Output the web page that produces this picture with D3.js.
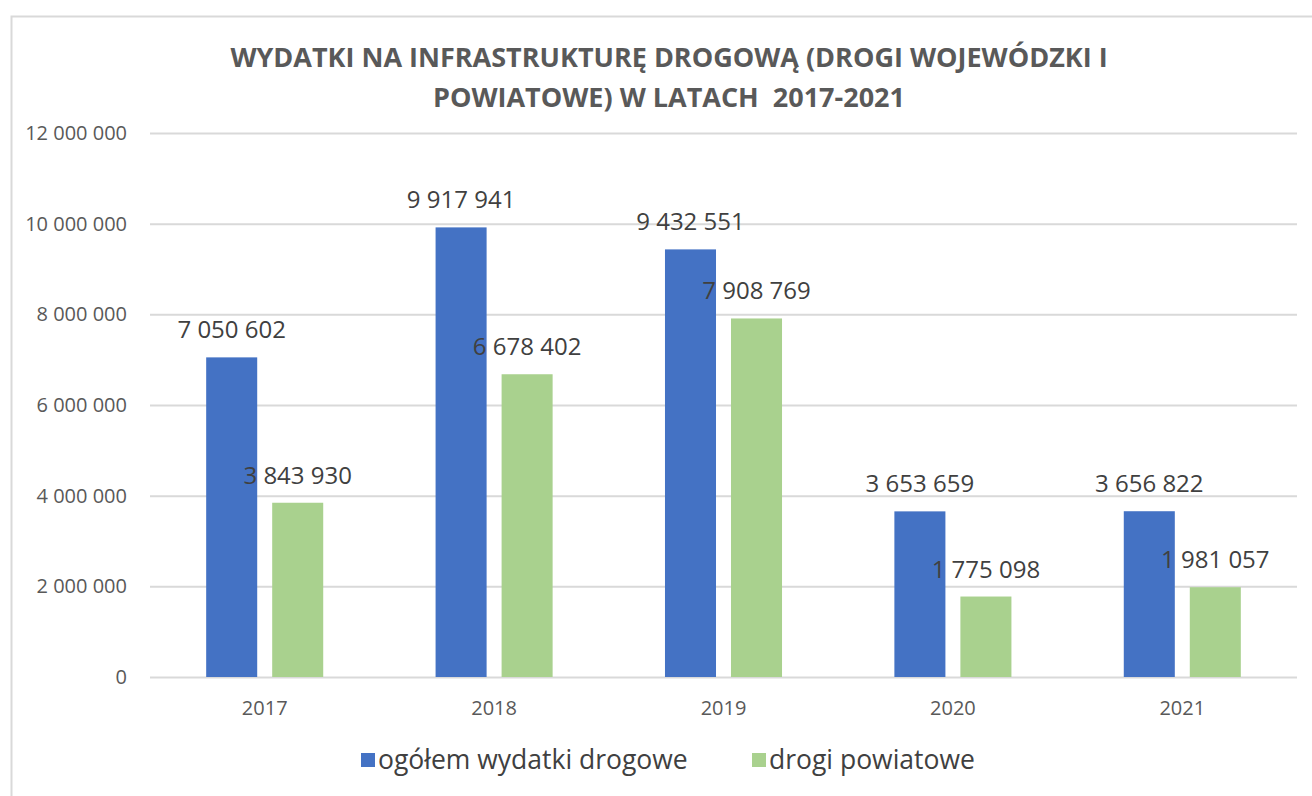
<!DOCTYPE html>
<html>
<head>
<meta charset="utf-8">
<script src="https://cdn.jsdelivr.net/npm/d3@7"></script>
<style>
  body { margin: 0; background: #fff; }
  svg { display: block; font-family: "Open Sans", sans-serif; }
</style>
</head>
<body>
<svg id="chart" width="1312" height="796"></svg>
<script>
var years = ["2017", "2018", "2019", "2020", "2021"];
var seriesNames = ["ogółem wydatki drogowe", "drogi powiatowe"];
var total = [7050602, 9917941, 9432551, 3653659, 3656822];
var powiatowe = [3843930, 6678402, 7908769, 1775098, 1981057];
var yTicks = [0, 2000000, 4000000, 6000000, 8000000, 10000000, 12000000];
var titleLines = ["WYDATKI NA INFRASTRUKTURĘ DROGOWĄ (DROGI WOJEWÓDZKI I", "POWIATOWE) W LATACH  2017-2021"];

var colors = ["#4472C4", "#A9D18E"];

var svg = d3.select("#chart");

// chart frame
svg.append("rect")
    .attr("x", 11.5).attr("y", 16.5)
    .attr("width", 1400).attr("height", 900)
    .attr("fill", "#fff")
    .attr("stroke", "#d9d9d9")
    .attr("stroke-width", 2);

var plot = { left: 150, right: 1297, top: 133, bottom: 677 };

var x = d3.scaleBand().domain(years).range([plot.left, plot.right]);
var x1 = d3.scaleBand().domain(seriesNames).range([0, x.bandwidth()])
    .paddingInner(0.227).paddingOuter(0.851);
var y = d3.scaleLinear().domain([0, 12000000]).range([plot.bottom, plot.top]);

// space as thousands separator
var fmt = d3.formatLocale({ decimal: ",", thousands: " ", grouping: [3], currency: ["", ""] }).format(",d");

// gridlines + y labels
var yAxis = d3.axisLeft(y).tickValues(yTicks).tickSize(-(plot.right - plot.left)).tickPadding(23).tickFormat(fmt);
var gy = svg.append("g")
    .attr("transform", "translate(" + plot.left + ",0)")
    .call(yAxis);
gy.select(".domain").remove();
gy.selectAll(".tick line").attr("stroke", "#d9d9d9").attr("stroke-width", 2);
gy.selectAll(".tick text")
    .attr("fill", "#595959")
    .attr("font-size", 20)
    .attr("font-family", "Open Sans");

// x labels
var xAxis = d3.axisBottom(x).tickSize(0).tickPadding(24);
var gx = svg.append("g")
    .attr("transform", "translate(0," + plot.bottom + ")")
    .call(xAxis);
gx.select(".domain").remove();
gx.selectAll(".tick text")
    .attr("fill", "#595959")
    .attr("font-size", 20)
    .attr("font-family", "Open Sans");

var rows = years.map(function (yr, i) {
  return { year: yr, values: [total[i], powiatowe[i]] };
});

var groups = svg.selectAll("g.year")
    .data(rows)
    .enter().append("g")
    .attr("class", "year")
    .attr("transform", function (d) { return "translate(" + x(d.year) + ",0)"; });

var cells = groups.selectAll("g.cell")
    .data(function (d) {
      return d.values.map(function (v, j) { return { name: seriesNames[j], value: v, idx: j }; });
    })
    .enter().append("g").attr("class", "cell");

cells.append("rect")
    .attr("x", function (d) { return x1(d.name); })
    .attr("width", x1.bandwidth())
    .attr("y", function (d) { return y(d.value); })
    .attr("height", function (d) { return plot.bottom - y(d.value); })
    .attr("fill", function (d) { return colors[d.idx]; });

cells.append("text")
    .attr("x", function (d) { return x1(d.name) + x1.bandwidth() / 2; })
    .attr("y", function (d) { return y(d.value) - 19; })
    .attr("text-anchor", "middle")
    .attr("fill", "#404040")
    .attr("font-size", 24)
    .text(function (d) { return fmt(d.value); });

// title
svg.append("text")
    .attr("x", 669)
    .attr("y", 67)
    .attr("text-anchor", "middle")
    .attr("fill", "#595959")
    .attr("font-weight", "bold")
    .attr("font-size", 27)
    .selectAll("tspan")
    .data(titleLines)
    .enter().append("tspan")
    .attr("x", 669)
    .attr("dy", function (d, i) { return i ? 40 : 0; })
    .attr("xml:space", "preserve")
    .text(function (d) { return d; });

// legend
var legendX = [361, 752];
var legend = svg.selectAll("g.legend")
    .data(seriesNames)
    .enter().append("g")
    .attr("class", "legend")
    .attr("transform", function (d, i) { return "translate(" + legendX[i] + ",753)"; });
legend.append("rect")
    .attr("width", 14).attr("height", 14)
    .attr("fill", function (d, i) { return colors[i]; });
legend.append("text")
    .attr("x", 17).attr("y", 16)
    .attr("fill", "#404040")
    .attr("font-size", 26.5)
    .text(function (d) { return d; });
</script>
</body>
</html>
